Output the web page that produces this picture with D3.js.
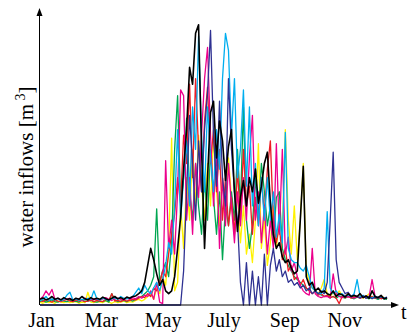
<!DOCTYPE html>
<html><head><meta charset="utf-8">
<script src="https://cdn.jsdelivr.net/npm/d3@7"></script>
<style>body{margin:0;background:#fff}svg{display:block}</style>
</head><body><svg id="c" width="407" height="335"></svg>
<script>
// day-of-year tick positions and labels
const monthTicks = [1, 61, 123, 184, 245, 305];
const monthLabels = ["Jan", "Mar", "May", "July", "Sep", "Nov"];
const dayStep = 3; // one sample every 3 days, starting Jan 1

const yellow = [1,0.6,1.2,0.8,1,0.6,1.4,1,0.8,1.2, 0.8,1,1.2,0.6,1,0.8,4.5,1,0.8,1.2, 1,0.8,1.4,1,0.6,1.2,0.8,1,1.4,0.8,
  1.2,1,1.6,2,1.4,2,3,4,2,6, 4,10,7,20,59,5,8,35,20,45, 30,55,35,60,42,30,50,35,60,40, 28,45,30,52,38,25,40,22,35,18,
  25,15,30,57,20,30,14,22,35,20, 30,25,62,30,18,35,16,30,50,12, 8,6,5,4,6,9,4,3,4.5,3, 5,3.5,3,4,2.6,3.2,2.8,3.4,2.4,3, 4,2.6,3,2.4,3.2,2.6,2.2];
const green = [1.2,1.6,1,1.4,1.8,1.2,1,1.6,1.4,1.2, 1.6,1.2,1.4,1,1.8,1.2,1.4,1.6,1.2,1, 1.4,1.2,1.6,1,4,1.8,1.2,1.4,1.6,1.2,
  1.8,1.4,2,2.6,3,4,5,7,10,34, 8,12,15,10,22,55,74,35,45,66, 40,30,50,35,25,45,30,55,38,25, 40,16,35,28,40,30,55,35,70,30,
  20,28,45,30,50,40,28,35,22,38, 40,20,16,14,12,10,9,8,7,6, 5,8,5,4,3.6,3,3.4,2.6,3,2.4, 3.2,2.8,2.4,3,2.6,2.2,2.8,2.4,3,2.6, 2.2,2.8,2.4,2,2.6,2.2,2];
const red = [1.6,1.2,2,1.5,1,1.8,1.4,1.2,1.6,2, 1.4,1.2,1.8,1.4,1.6,1.2,1.4,1.8,1.2,1.6, 1.4,1.2,2,1.6,4,1.4,1.6,1.2,1.8,1.4,
  1.6,2,1.8,2.4,3,2.6,4,3,6,5, 8,12,10,18,25,32,45,36,60,50, 78,45,80,55,40,65,77,50,62,40, 55,30,45,28,38,25,48,30,55,35,
  42,25,38,28,45,32,48,58,30,22, 28,16,20,12,14,9,10,7,9,6, 5,4,5,3.5,4,3,3.4,2.6,3,2.4, 0.5,3,2.6,3.2,2.4,2.8,3,2.4,2.8,3.2, 2.6,3,2.4,2.8,2.2,2.6,2.4];
const magenta = [2,3,5,3.5,5.5,2,2.4,1.8,2.2,2, 2.4,1.8,2,2.2,1.6,2.4,2,1.8,2.2,2, 1.8,2.2,2.6,2,1.6,2.2,2.4,2,1.8,2.4,
  2,2.6,2.2,3,2.4,3.5,3,5,2,8, 1,0.5,51,20,30,18,40,76,74,30, 45,25,50,38,60,80,91,60,35,55, 20,45,28,50,35,22,40,28,45,30,
  52,67,30,40,22,35,18,30,20,57, 25,55,18,24,12,15,10,7,5,4, 3.5,20,4,3,2.6,3,3,2.4,11,4, 3,2.6,3.4,2.8,3,2.4,3,2.6,3.2,2.4, 3,9,3,2.6,3.2,2.4,2.8];
const cyan = [1.5,2,3,1.6,2.2,1.8,2.4,1.5,2,3.5, 4.5,1.8,2.2,1.6,2,1.8,2.4,2,5,2.2, 1.8,2.4,2,1.6,2.2,2.6,2,3,2.4,2.2,
  2.6,3,4.5,6,4,7,5,4,6,8, 5,9,14,22,18,35,62,30,45,58, 35,70,55,95,60,40,70,52,40,62, 48,80,96,90,60,80,45,55,76,42,
  70,35,50,28,45,30,45,30,40,24, 32,22,61,20,16,15,15,13,12,14, 10,6,5,4,4,6,33,6,4,5, 3.5,4,3,3.6,3,4,9,3,3.4,2.6, 3,2.4,3.2,2.6,3,2.4,2.8];
const navy = [0,0,0,0,0,0,0,0,0,0, 0,0,0,0,0,0,0,0,0,0, 0,0,0,0,0,0,0,0,0,0,
  0,0,0,0,0,0,0,0,0,0, 0,0,0,0,0,0,0,0,12,40, 67,50,30,58,40,62,75,97,60,42, 72,45,35,80,55,40,30,8,0,15,
  0,12,0,10,0,18,0,14,20,12, 16,10,12,8,9,7,8,6,7,5, 6,4,5,4,5,4,8,30,54,16, 8,6,4,4.5,3,3.5,3,2.5,3.2,2.4, 3,2.2,2.8,2.4,3,2.2,2.5];
const black = [2,2.5,1.8,2.2,3,2,2.4,1.8,2.6,2, 2.2,1.6,2.4,2,3,2.2,1.8,2.6,2,2.4, 2,2.8,2.2,1.8,2.4,3,2.2,2.6,2,2.8,
  2.4,3,3.2,4,5,8,14,20,16,11, 7,9,5,4,5,10,20,31,48,62, 84,78,96,99,55,20,45,68,72,52, 65,58,44,56,62,40,26,38,44,35,
  45,40,48,36,42,50,54,36,25,20, 22,17,15,16,13,11,12,30,49,10, 7,8,5,6,4.5,5,4,3.5,5,3, 4,3.6,2.8,4,3,3.4,3,4,2.6,3.2, 2.4,5,3,2.6,3.4,2.2,2.6];

const series = [
  {values: yellow, color: "#fff200", w: 1.3},
  {values: green, color: "#00a651", w: 1.3},
  {values: red, color: "#ed1c24", w: 1.3},
  {values: magenta, color: "#ec008c", w: 1.3},
  {values: cyan, color: "#00aeef", w: 1.3},
  {values: navy, color: "#2e3192", w: 1.3},
  {values: black, color: "#000000", w: 1.6}
];

const svg = d3.select("#c");
const x = d3.scaleLinear().domain([0, 365]).range([40, 404]);
const y = d3.scaleLinear().domain([0, 100]).range([305, 22]);

const line = d3.line().x((d, i) => x(i * dayStep)).y(d => y(d));
const g = svg.append("g");
series.forEach(s => {
  g.append("path").attr("d", line(s.values)).attr("fill", "none")
    .attr("stroke", s.color).attr("stroke-width", s.w).attr("stroke-linejoin", "round");
});

// axes
svg.append("line").attr("x1", 40).attr("x2", 394).attr("y1", y(0)).attr("y2", y(0))
  .attr("stroke", "#000").attr("stroke-width", 1);
svg.append("path").attr("d", "M399,305 L391,302 L391,308 Z").attr("fill", "#000");
svg.append("line").attr("x1", 39.5).attr("x2", 39.5).attr("y1", y(0)).attr("y2", 14)
  .attr("stroke", "#000").attr("stroke-width", 1);
svg.append("path").attr("d", "M39.5,8 L36.5,16 L42.5,16 Z").attr("fill", "#000");

const xAxis = d3.axisBottom(x).tickValues(monthTicks).tickFormat((d, i) => monthLabels[i]).tickSize(0).tickPadding(0);
const ax = svg.append("g").attr("transform", "translate(0,327)").call(xAxis);
ax.select(".domain").remove();
ax.selectAll("text").attr("dy", 0).attr("y", 0)
  .attr("font-family", "Liberation Serif, Times New Roman, serif").attr("font-size", 20).attr("fill", "#000");

svg.append("text").attr("x", 401).attr("y", 319).text("t")
  .attr("font-family", "Liberation Serif, Times New Roman, serif").attr("font-size", 20);

const yl = svg.append("text").attr("transform", "translate(33,167) rotate(-90)")
  .attr("text-anchor", "middle")
  .attr("font-family", "Liberation Serif, Times New Roman, serif").attr("font-size", 21);
yl.append("tspan").text("water inflows [m");
yl.append("tspan").attr("dy", -8).attr("font-size", 14).text(" 3");
yl.append("tspan").attr("dy", 8).text("]");
</script></body></html>
